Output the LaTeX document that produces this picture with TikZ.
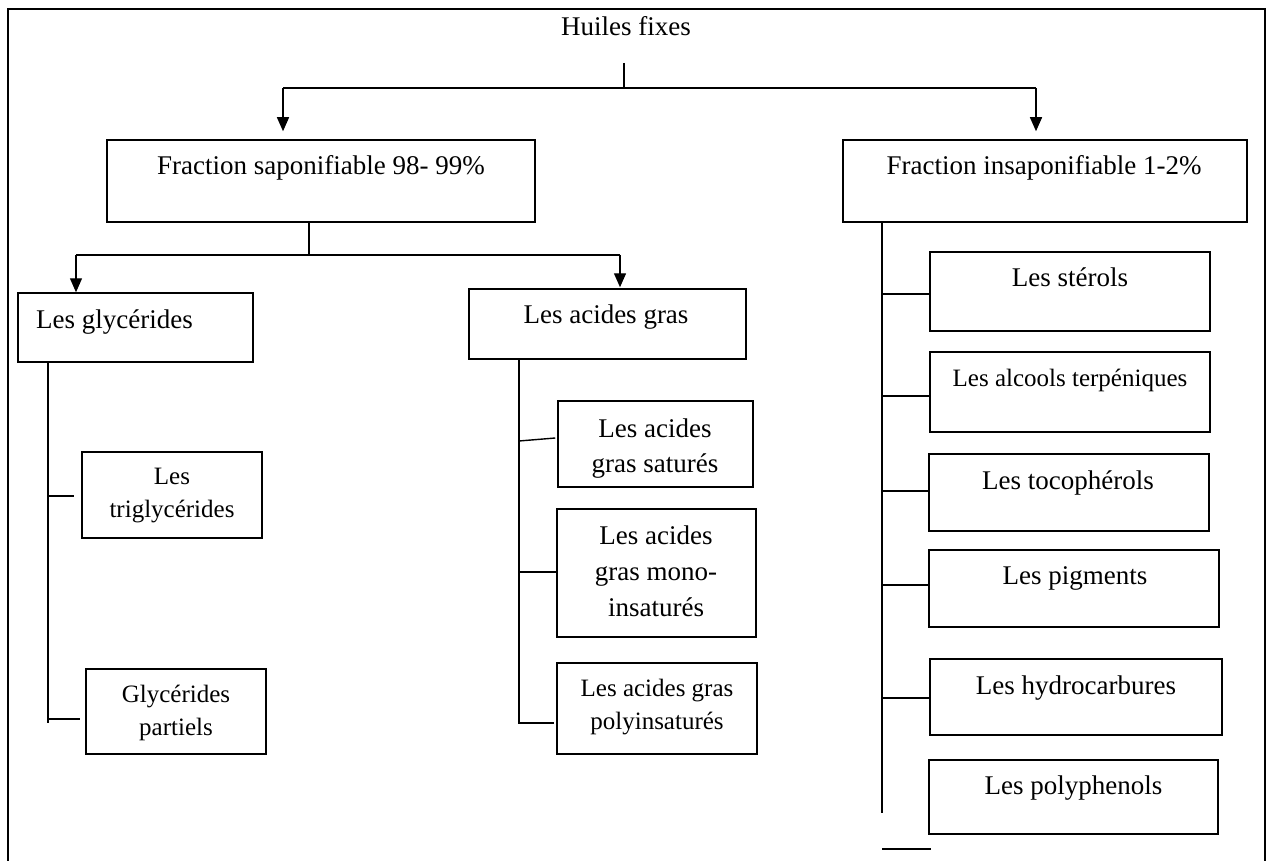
\documentclass[tikz,border=0pt]{standalone}
\usepackage{fontspec}
\setmainfont{Liberation Serif}
\usetikzlibrary{arrows.meta,calc}
\tikzset{
  box/.style={draw, line width=1.5pt, rectangle, inner sep=0pt},
  lbl/.style={anchor=base, inner sep=0pt, font=\fontsize{27}{32}\selectfont},
  slbl/.style={anchor=base, inner sep=0pt, font=\fontsize{25}{30}\selectfont},
  conn/.style={line width=1.4pt},
  arr/.style={conn, -{Triangle[length=14pt,width=12pt]}},
  frame/.style={line width=1.5pt}
}
\begin{document}
\begin{tikzpicture}[x=1pt,y=-1pt]
\useasboundingbox (0,0) rectangle (1272,861);
% outer frame
\draw[frame] (8,861) -- (8,9) -- (1265,9) -- (1265,861);

% title
\node[lbl] (huiles) at (626,36) {Huiles fixes};

% boxes
\node[box, minimum width=428pt, minimum height=82pt] (sap) at (321,181) {};
\node[box, minimum width=404pt, minimum height=82pt] (insap) at (1045,181) {};
\node[box, minimum width=235pt, minimum height=69pt] (glyc) at (135.5,327.5) {};
\node[box, minimum width=180pt, minimum height=86pt] (trig) at (172,495) {};
\node[box, minimum width=180pt, minimum height=85pt] (part) at (176,711.5) {};
\node[box, minimum width=277pt, minimum height=70pt] (acid) at (607.5,324) {};
\node[box, minimum width=195pt, minimum height=86pt] (sat) at (655.5,444) {};
\node[box, minimum width=199pt, minimum height=128pt] (mono) at (656.5,573) {};
\node[box, minimum width=200pt, minimum height=91pt] (poly) at (657,708.5) {};
\node[box, minimum width=280pt, minimum height=79pt] (ster) at (1070,291.5) {};
\node[box, minimum width=280pt, minimum height=80pt] (alc) at (1070,392) {};
\node[box, minimum width=280pt, minimum height=77pt] (toc) at (1069,492.5) {};
\node[box, minimum width=290pt, minimum height=77pt] (pig) at (1074,588.5) {};
\node[box, minimum width=292pt, minimum height=76pt] (hyd) at (1076,697) {};
\node[box, minimum width=289pt, minimum height=74pt] (pol) at (1073.5,797) {};

% texts
\node[lbl] (sap-t) at (321,175) {Fraction saponifiable 98- 99\%};
\node[lbl] (insap-t) at (1044,175) {Fraction insaponifiable 1-2\%};
\node[lbl, anchor=base west] (glyc-t) at (36,328) {Les glycérides};
\node[slbl] (trig-t1) at (172,484) {Les};
\node[slbl] (trig-t2) at (172,517) {triglycérides};
\node[slbl] (part-t1) at (176,702) {Glycérides};
\node[slbl] (part-t2) at (176,735) {partiels};
\node[lbl] (acid-t) at (606,323) {Les acides gras};
\node[lbl] (sat-t1) at (655,437) {Les acides};
\node[lbl] (sat-t2) at (655,472) {gras saturés};
\node[lbl] (mono-t1) at (656,544) {Les acides};
\node[lbl] (mono-t2) at (656,580) {gras mono-};
\node[lbl] (mono-t3) at (656,616) {insaturés};
\node[slbl] (poly-t1) at (657,696) {Les acides gras};
\node[slbl] (poly-t2) at (657,729) {polyinsaturés};
\node[lbl] (ster-t) at (1070,287) {Les stérols};
\node[slbl] (alc-t) at (1070,386) {Les alcools terpéniques};
\node[lbl] (toc-t) at (1068,489) {Les tocophérols};
\node[lbl] (pig-t) at (1075,584) {Les pigments};
\node[lbl] (hyd-t) at (1076,694) {Les hydrocarbures};
\node[lbl] (pol-t) at (1073.5,794) {Les polyphenols};

% top tree
\coordinate (h0) at (624,63);
\coordinate (hL) at (283,88);
\coordinate (hR) at (1036,88);
\draw[conn] (h0) -- (h0 |- hL);
\draw[conn] (hL) -- (hR);
\draw[arr, shorten >=8pt] (hL) -- (hL |- sap.north);
\draw[arr, shorten >=8pt] (hR) -- (hR |- insap.north);

% saponifiable tree
\coordinate (sT) at (309,255);
\coordinate (sL) at (76,255);
\coordinate (sR) at (620,255);
\draw[conn] (sap.south -| sT) -- (sT);
\draw[conn] (sL) -- (sR);
\draw[arr] (sL) -- (sL |- glyc.north);
\draw[arr, shorten >=1pt] (sR) -- (sR |- acid.north);

% glycerides tree
\coordinate (gV) at (48,723);
\draw[conn] (glyc.south -| gV) -- (gV);
\draw[conn] ($(gV |- trig.west)+(0,1)$) -- ($(trig.west)+(-7,1)$);
\draw[conn] ($(gV |- part.west)+(0,7.5)$) -- ($(part.west)+(-5,7.5)$);

% acides gras tree
\coordinate (aV) at (519,723);
\draw[conn] (acid.south -| aV) -- (aV) -- ($(poly.west)+(-2,14.5)$);
\draw[conn] ($(aV |- sat.west)+(0,-3)$) -- ($(sat.west)+(-2,-6)$);
\draw[conn] ($(aV |- mono.west)+(0,-1)$) -- ($(mono.west)+(0,-1)$);

% insaponifiable tree
\coordinate (iV) at (882,813);
\draw[conn] (insap.south -| iV) -- (iV);
\draw[conn] ($(iV |- ster.west)+(0,2.5)$) -- ($(ster.west)+(0,2.5)$);
\draw[conn] ($(iV |- alc.west)+(0,4)$) -- ($(alc.west)+(0,4)$);
\draw[conn] ($(iV |- toc.west)+(0,-1.5)$) -- ($(toc.west)+(0,-1.5)$);
\draw[conn] ($(iV |- pig.west)+(0,-3.5)$) -- ($(pig.west)+(0,-3.5)$);
\draw[conn] ($(iV |- hyd.west)+(0,1)$) -- ($(hyd.west)+(0,1)$);
\coordinate (x1) at (882,849);
\coordinate (x2) at (931,849);
\draw[conn] (x1) -- (x2);
\end{tikzpicture}
\end{document}
